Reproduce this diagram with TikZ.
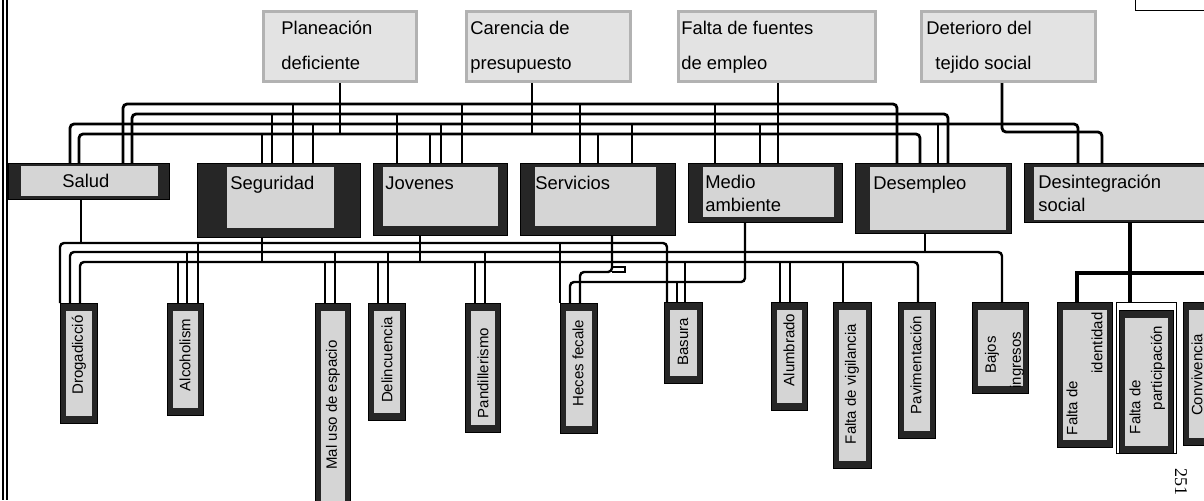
\documentclass[tikz,border=0pt]{standalone}
\usepackage{fontspec}
\setmainfont{Liberation Sans}
\newfontfamily\pgserif{Liberation Serif}
\newcommand\mkbox[6]{%
  \pgfmathsetmacro\bw{0.5*(#4-#2)}%
  \pgfmathsetmacro\bh{0.5*(#5-#3)}%
  \node[#6, anchor=north west, minimum width=\bw pt, minimum height=\bh pt] (#1) at (#2,#3) {};}
\newcommand\mkpatch[6]{%
  \fill[#6] ([shift={(#2pt,-#3pt)}]#1.north west) rectangle ([shift={(-#4pt,#5pt)}]#1.south east);}
\newcommand\vd[4][bus]{\draw[#1] (#2,0 |- #3) -- (#2,0 |- #4);}
\begin{document}
\begin{tikzpicture}[x=0.5pt, y=-0.5pt,
  topbox/.style={draw=gray!60, fill=gray!22, line width=1.6pt, inner sep=0pt},
  midbox/.style={draw=black, fill=black!85, line width=0.6pt, inner sep=0pt},
  botbox/.style={draw=black, fill=black!85, line width=0.6pt, inner sep=0pt},
  frbox/.style={draw=black, line width=0.6pt, inner sep=0pt},
  patch/.style={gray!33},
  toptext/.style={anchor=base west, inner sep=0pt, font=\fontsize{9.2}{11}\selectfont},
  midtext/.style={anchor=base west, inner sep=0pt, font=\fontsize{9.2}{11}\selectfont},
  bottext/.style={rotate=90, inner sep=0pt, font=\fontsize{7.5}{9}\selectfont},
  bus/.style={line width=1.4pt, rounded corners=2pt},
  busb/.style={line width=1.2pt, rounded corners=2pt},
  busc/.style={line width=2.2pt}]
\useasboundingbox (0,0) rectangle (1204,500);
\clip (0,0) rectangle (1204,500);
\fill[white] (0,0) rectangle (1204,500);
% left frame
\draw[line width=0.7pt] (3,0) -- (3,500);
\draw[line width=0.7pt] (7,0) -- (7,500);
% top-right partial box
\mkbox{tr}{1135}{-60}{1260}{10}{frbox}
% ---------- top boxes
\mkbox{pl}{262}{10}{415}{80}{topbox}
\mkbox{ca}{465}{10}{629}{80}{topbox}
\mkbox{ff}{677}{10}{874}{80}{topbox}
\mkbox{dt}{920}{10}{1094}{80}{topbox}
\node[toptext] (pl1) at (281,34) {Planeación};
\node[toptext] (pl2) at (281,69) {deficiente};
\node[toptext] (ca1) at (470,34) {Carencia de};
\node[toptext] (ca2) at (470,69) {presupuesto};
\node[toptext] (ff1) at (681,34) {Falta de fuentes};
\node[toptext] (ff2) at (681,69) {de empleo};
\node[toptext] (dt1) at (926,34) {Deterioro del};
\node[toptext] (dt2) at (935,69) {tejido social};
% ---------- middle boxes
\mkbox{sa}{8}{163}{169}{199}{midbox}
\mkbox{se}{197}{163}{360}{237}{midbox}
\mkbox{jo}{373}{163}{507}{235}{midbox}
\mkbox{sv}{520}{163}{675}{235}{midbox}
\mkbox{ma}{688}{163}{842}{222}{midbox}
\mkbox{de}{855}{163}{1011}{233}{midbox}
\mkbox{di}{1024}{163}{1214}{222}{midbox}
\mkpatch{sa}{6.5}{1.5}{6}{2}{patch}
\mkpatch{se}{15}{2}{13.5}{5}{patch}
\mkpatch{jo}{5}{2}{5}{5}{patch}
\mkpatch{sv}{7.5}{2}{10}{5}{patch}
\mkpatch{ma}{7.5}{2}{4.5}{3}{patch}
\mkpatch{de}{7.5}{2}{3}{2}{patch}
\mkpatch{di}{5}{2}{3}{1.5}{patch}
\node[midtext] (sat) at (62,187) {Salud};
\node[midtext] (set) at (230,189) {Seguridad};
\node[midtext] (jot) at (385,189) {Jovenes};
\node[midtext] (svt) at (535,189) {Servicios};
\node[midtext] (mat1) at (705,188) {Medio};
\node[midtext] (mat2) at (705,211) {ambiente};
\node[midtext] (det) at (873,189) {Desempleo};
\node[midtext] (dit1) at (1038,188) {Desintegración};
\node[midtext] (dit2) at (1038,211) {social};
% ---------- bottom boxes
\mkbox{dr}{60}{303}{97}{423}{botbox}
\mkbox{al}{167}{303}{203}{415}{botbox}
\mkbox{mu}{315}{303}{350}{520}{botbox}
\mkbox{dl}{368}{303}{405}{420}{botbox}
\mkbox{pa}{465}{303}{500}{432}{botbox}
\mkbox{hf}{560}{303}{597}{433}{botbox}
\mkbox{ba}{664}{302}{702}{383}{botbox}
\mkbox{au}{771}{302}{807}{410}{botbox}
\mkbox{fv}{833}{302}{871}{468}{botbox}
\mkbox{pv}{898}{302}{935}{438}{botbox}
\mkbox{bi}{972}{302}{1028}{393}{botbox}
\mkbox{fi}{1057}{302}{1112}{447}{botbox}
\mkbox{fpo}{1116}{302}{1176}{453}{frbox}
\mkbox{fp}{1119}{310}{1173}{453}{botbox}
\mkbox{cv}{1183}{302}{1220}{445}{botbox}
\foreach \b in {dr,al,mu,dl,pa,hf,ba,au,fv,pv,bi,fi,fp,cv}{\mkpatch{\b}{3}{4}{3}{4}{patch}}
\node[bottext] (drt) at (79,355) {Drogadicció};
\node[bottext] (alt) at (185,355) {Alcoholism};
\node[bottext] (mut) at (333,405) {Mal uso de espacio};
\node[bottext] (dlt) at (387,360) {Delincuencia};
\node[bottext] (pat) at (483,373) {Pandillerismo};
\node[bottext] (hft) at (578,363) {Heces fecale};
\node[bottext] (bat) at (683,342) {Basura};
\node[bottext] (aut) at (789,350) {Alumbrado};
\node[bottext] (fvt) at (852,384) {Falta de vigilancia};
\node[bottext] (pvt) at (916,365) {Pavimentación};
\node[bottext] (bit1) at (992,355) {Bajos};
\node[bottext] (bit2) at (1017,360) {ingresos};
\node[bottext] (fit1) at (1072,408) {Falta de};
\node[bottext] (fit2) at (1097,343) {identidad};
\node[bottext] (fpt1) at (1135,407) {Falta de};
\node[bottext] (fpt2) at (1158,368) {participación};
\node[bottext] (cvt) at (1197,375) {Convivencia};
% page number
\node[rotate=-90, inner sep=0pt, font=\pgserif\fontsize{9}{9}\selectfont] (pg) at (1181,482) {251};
% ---------- upper bus levels
\coordinate (yA) at (0,104);
\coordinate (yB) at (0,114);
\coordinate (yC) at (0,124);
\coordinate (yD) at (0,134);
\coordinate (dtj) at (1102,132);
\draw[bus] (123,0 |- sa.north) |- (897,0 |- yA) -- (897,0 |- de.north);
\draw[bus] (132,0 |- sa.north) |- (948,0 |- yB) -- (948,0 |- de.north);
\draw[bus] (70,0 |- sa.north) |- (1078,0 |- yC) -- (1078,0 |- di.north);
\draw[bus] (79,0 |- sa.north) |- (920,0 |- yD) -- (920,0 |- de.north);
% drops from causes
\vd{340}{pl.south}{yD}
\vd{532}{ca.south}{yD}
\vd{778}{ff.south}{ma.north}
\draw[bus] (1002,0 |- dt.south) |- (dtj) -- (1102,0 |- di.north);
% bus to middle boxes
\vd{262}{yD}{se.north}
\vd{272}{yB}{se.north}
\vd{293}{yA}{se.north}
\vd{313}{yC}{se.north}
\vd{397}{yB}{jo.north}
\vd{430}{yD}{jo.north}
\vd{441}{yC}{jo.north}
\vd{462}{yA}{jo.north}
\vd{580}{yA}{sv.north}
\vd{598}{yD}{sv.north}
\vd{632}{yC}{sv.north}
\vd{715}{yA}{ma.north}
\vd{760}{yC}{ma.north}
\vd{938}{yC}{de.north}
% ---------- lower bus levels
\coordinate (yE) at (0,243);
\coordinate (yF) at (0,252);
\coordinate (yG) at (0,262);
\coordinate (yH) at (0,282);
\coordinate (yI) at (0,273);
\coordinate (svj) at (580,272);
\coordinate (maj) at (570,282);
\vd[busb]{81}{sa.south}{yE}
\draw[busb] (60,0 |- dr.north) |- (667,0 |- yE) -- (667,0 |- ba.north);
\draw[busb] (70,0 |- dr.north) |- (1002,0 |- yF) -- (1002,0 |- bi.north);
\draw[busb] (80,0 |- dr.north) |- (918,0 |- yG) -- (918,0 |- pv.north);
\vd[busb]{262}{se.south}{yG}
\vd[busb]{420}{jo.south}{yG}
\draw[busb] (612,0 |- sv.south) |- (svj) -- (580,0 |- hf.north);
\draw[line width=1.2pt] (612,267) -- (625,267) -- (625,272) -- (612,272);
\draw[busb] (745,0 |- ma.south) |- (maj) -- (570,0 |- hf.north);
\vd[busb]{677}{yH}{ba.north}
\vd[busb]{925}{de.south}{yF}
% E
\vd[busb]{198}{yE}{al.north}
\vd[busb]{560}{yE}{hf.north}
% F
\vd[busb]{187}{yF}{al.north}
\vd[busb]{335}{yF}{mu.north}
\vd[busb]{388}{yF}{dl.north}
\vd[busb]{485}{yF}{pa.north}
% G
\vd[busb]{178}{yG}{al.north}
\vd[busb]{325}{yG}{mu.north}
\vd[busb]{378}{yG}{dl.north}
\vd[busb]{475}{yG}{pa.north}
\vd[busb]{685}{yG}{ba.north}
\vd[busb]{780}{yG}{au.north}
\vd[busb]{790}{yG}{au.north}
\vd[busb]{843}{yG}{fv.north}
% Desintegracion social
\draw[busc] (1077,0 |- fi.north) |- (1215,0 |- yI);
\vd[busc]{1130}{di.south}{fpo.north}
\end{tikzpicture}
\end{document}
